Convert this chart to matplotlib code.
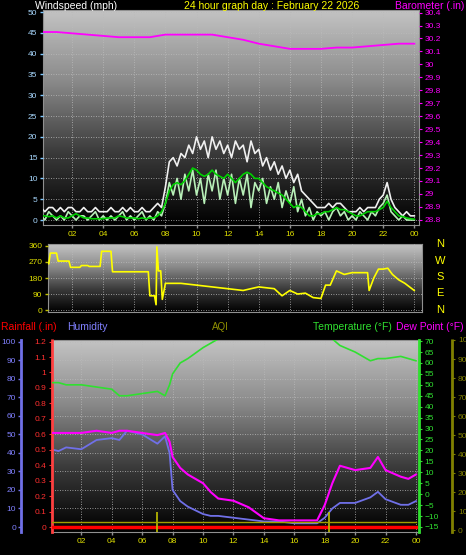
import numpy as np
import matplotlib
matplotlib.use("Agg")
import matplotlib.pyplot as plt
from matplotlib.colors import LinearSegmentedColormap

# ---------------- data ----------------
t_q = [i * 0.25 for i in range(97)]  # quarter-hour times
gust = [3, 2, 3, 3, 2, 3, 2, 3, 3, 2, 2, 3, 2, 2, 3, 2, 2, 2, 3, 2, 2, 3, 2, 3, 2, 2, 3, 2, 2, 3, 4, 3,
        8, 14, 15, 13, 16, 15, 18, 16, 20, 17, 19, 15, 20, 17, 19, 16, 18, 15, 19, 17, 18, 14, 19, 16, 17, 13, 15, 12, 14, 11, 13, 10,
        12, 9, 11, 7, 6, 5, 4, 3, 3, 3, 4, 3, 4, 4, 3, 2, 2, 2, 3, 2, 3, 3, 3, 5, 6, 9, 5, 3, 2, 1, 2, 1, 1]
wind = [1, 0, 2, 1, 0, 1, 0, 2, 1, 0, 1, 1, 0, 1, 2, 0, 1, 0, 1, 0, 1, 2, 0, 1, 0, 1, 2, 0, 1, 0, 2, 1,
        4, 9, 6, 10, 5, 11, 7, 12, 6, 10, 4, 11, 7, 12, 5, 10, 6, 11, 4, 10, 6, 11, 3, 9, 7, 10, 4, 8, 5, 9, 3, 7,
        4, 8, 2, 5, 1, 3, 0, 2, 1, 2, 0, 2, 3, 1, 2, 0, 1, 0, 2, 1, 0, 2, 1, 3, 4, 6, 2, 1, 0, 1, 0, 0, 0]
avg = [1, 1, 0.8, 1, 0.5, 1, 0.5, 0.5, 1, 1.5, 1, 0.5, 0.5, 0.3, 0.3, 0.3, 0.3, 0.5, 0.5, 0.5, 1, 0.8, 0.5, 0.5, 0.5, 0.3, 0.5, 0.3, 0.5, 0.5, 1, 2,
        4, 7, 8.5, 9, 8.5, 9.5, 11, 12.5, 12, 11, 10.5, 11, 12, 11, 10.5, 10, 11, 10, 9, 10, 11, 11.5, 11, 10, 10, 9, 8, 7.5, 7, 6.5, 6, 5,
        4, 3, 3.5, 3, 2, 1, 1, 1.5, 1.5, 2, 2, 2.5, 3, 2.5, 2.5, 2, 1.5, 1, 1, 1.5, 2, 2, 2, 2.5, 3, 4.5, 3, 2, 1, 0.8, 0.5, 0.3, 0.2]
t_h = list(range(25))
baro = [30.25, 30.25, 30.24, 30.23, 30.22, 30.21, 30.21, 30.21, 30.23, 30.23, 30.23, 30.23, 30.21, 30.19, 30.16,
        30.14, 30.12, 30.12, 30.12, 30.13, 30.13, 30.14, 30.15, 30.16, 30.16]

t_dir = [0, 0.5, 0.6, 1.0, 1.1, 1.8, 1.9, 2.5, 2.6, 3.0, 3.1, 3.8, 3.9, 4.0, 4.5, 4.6, 6.9, 7.0, 7.3, 7.4, 7.45, 7.55, 7.7,
         7.8, 8.0, 8.2, 9.0, 10.0, 11.0, 12.0, 13.0, 14.0, 15.0, 15.5, 16.0, 16.5, 17.0, 17.5, 18.0, 18.3, 18.6, 19.0,
         19.5, 20.0, 20.5, 21.0, 21.1, 21.4, 21.7, 22.0, 22.3, 22.6, 23.0, 23.4, 24.0]
wdir = [260, 260, 320, 320, 275, 275, 240, 240, 250, 250, 245, 245, 330, 330, 330, 215, 215, 80, 80, 30, 355, 220, 220,
        60, 150, 150, 150, 140, 130, 120, 110, 130, 120, 80, 110, 90, 95, 70, 65, 140, 140, 220,
        200, 210, 210, 210, 110, 180, 230, 230, 235, 200, 170, 150, 110]

t_b = [0, 0.5, 1, 2, 3, 4, 4.5, 5, 6, 7, 7.5, 7.8, 8, 8.5, 9, 10, 10.5, 11, 12, 13, 14, 15, 16, 17, 17.5, 18, 18.5, 19,
       20, 21, 21.5, 22, 23, 23.5, 24]
humidity = [42, 41, 43, 42, 47, 48, 47, 52, 50, 45, 49, 40, 20, 14, 11, 7, 6, 6, 5, 4, 3, 3, 2, 2, 2, 5, 10, 13,
            13, 16, 19, 15, 12, 12, 14]
temperature = [51, 51, 50, 50, 49, 48, 45, 45, 46, 47, 45, 50, 55, 60, 62, 67, 69, 71, 75, 76, 77, 77, 77, 76, 75, 73, 71, 68,
               65, 61, 62, 62, 63, 62, 61]
dewpoint = [28, 28, 28, 28, 29, 28, 29, 29, 28, 27, 28, 24, 17, 12, 9, 5, 1, -2, -3, -6, -11, -12, -12, -12, -12, -5, 5, 13,
            11, 12, 17, 11, 8, 7, 9]
rain = [0.0] * len(t_b)
aqi = [4.2] * len(t_b)
aqi_spikes = [7.0, 18.3]
aqi_spike_val = 9.5

hour_ticks = [2, 4, 6, 8, 10, 12, 14, 16, 18, 20, 22, 24]
hour_labels = ["02", "04", "06", "08", "10", "12", "14", "16", "18", "20", "22", "00"]

# ---------------- figure ----------------
W, H = 466, 555
fig = plt.figure(figsize=(W / 100, H / 100), dpi=100, facecolor="black")
plt.rcParams['font.family'] = ['Liberation Sans', 'DejaVu Sans']
FS = 6
TFS = 7.5
gcmap = LinearSegmentedColormap.from_list("g", ["#000000", "#3a3a3a", "#8a8a8a", "#c4c4c4"])


def pix_ax(x0, x1, y0, y1):
    return fig.add_axes([x0 / W, 1 - y1 / H, (x1 - x0) / W, (y1 - y0) / H])


def style(ax):
    ax.set_facecolor("black")
    grad = np.linspace(0, 1, 256).reshape(-1, 1)
    ax.imshow(grad, aspect="auto", cmap=gcmap, origin="lower", extent=[0, 1, 0, 1],
              transform=ax.transAxes, zorder=0)
    for s in ax.spines.values():
        s.set_color("#909090")
    ax.grid(True, color="#bbbbbb", linestyle=(0, (1, 2)), linewidth=0.6)
    ax.set_axisbelow(False)
    ax.tick_params(labelsize=FS, length=2.5, width=1, direction="out", pad=1.5)


# ---- top panel ----
ax1 = pix_ax(43, 419, 10, 225)
style(ax1)
ax1.plot(t_q, gust, color="#f0f0f0", lw=1.2, zorder=3)
ax1.plot(t_q, wind, color="#b8f0b8", lw=1.2, zorder=4)
ax1.plot(t_q, avg, color="#00d000", lw=1.2, zorder=5)
ax1.set_xlim(0.13, 24.3)
ax1.set_ylim(-1.2, 50.5)
ax1.set_yticks(range(0, 51, 5))
ax1.set_xticks(hour_ticks)
ax1.set_xticklabels(hour_labels)
ax1.tick_params(axis="y", colors="#80c8ff", labelcolor="#a8d8ff")
ax1.tick_params(axis="x", colors="#909090", labelcolor="#e0e000")
ax1b = ax1.twinx()
ax1b.plot(t_h, baro, color="#ff00ff", lw=1.3, zorder=6)
ax1b.set_ylim(28.76, 30.42)
ax1b.set_yticks([28.8 + 0.1 * i for i in range(17)])
ax1b.set_yticklabels([f"{28.8 + 0.1 * i:.1f}".rstrip("0").rstrip(".") for i in range(17)])
ax1b.tick_params(labelsize=FS, colors="#ff00ff", length=2.5, pad=1.5)
for s in ax1b.spines.values():
    s.set_visible(False)

fig.text(35 / W, 1 - 6 / H, "Windspeed (mph)", color="white", fontsize=TFS, va="center")
fig.text(272 / W, 1 - 6 / H, "24 hour graph day : February 22 2026", color="#ffff00", fontsize=TFS,
         va="center", ha="center")
fig.text(464 / W, 1 - 6 / H, "Barometer (.in)", color="#ff00ff", fontsize=TFS, va="center", ha="right")

# ---- middle panel ----
ax2 = pix_ax(48, 422, 244, 312)
style(ax2)
ax2.plot(t_dir, wdir, color="#ffff00", lw=1.2, zorder=3)
ax2.set_xlim(0.45, 24.5)
ax2.set_ylim(-11, 371)
ax2.set_yticks([0, 90, 180, 270, 360])
ax2.set_xticks(hour_ticks)
ax2.tick_params(axis="x", length=0, labelbottom=False)
ax2.tick_params(axis="y", colors="#c0c000", labelcolor="#e0e000")
for i, lab in enumerate(["N", "W", "S", "E", "N"]):
    fig.text(440 / W, 1 - (244 + i * 16.5) / H, lab, color="#ffff00", fontsize=8, ha="center", va="center")

# ---- bottom panel ----
ax3 = pix_ax(52, 419, 340, 532)
style(ax3)
ax3.plot(t_b, humidity, color="#7070e8", lw=1.3, zorder=3)
ax3.set_xlim(0.07, 24.2)
ax3.set_ylim(-2.7, 101)
ax3.set_yticks(range(0, 101, 10))
ax3.set_xticks(hour_ticks)
ax3.set_xticklabels(hour_labels)
ax3.spines["left"].set_position(("outward", 22))
ax3.spines["left"].set_color("#7070e8")
ax3.spines["left"].set_linewidth(2)
ax3.tick_params(axis="y", colors="#7070e8", labelcolor="#8080ff")
ax3.tick_params(axis="x", colors="#909090", labelcolor="#e0e000")

ax3r = ax3.twinx()
ax3r.yaxis.tick_left()
ax3r.plot(t_b, rain, color="#ff0000", lw=2.5, zorder=5)
ax3r.set_ylim(-0.032, 1.21)
ax3r.set_yticks([0.1 * i for i in range(13)])
ax3r.set_yticklabels(["0"] + [f"{0.1 * i:.1f}".rstrip("0").rstrip(".") for i in range(1, 13)])
ax3r.tick_params(labelsize=FS, colors="#ff3030", length=2.5, pad=1.5)
for s in ["right", "top", "bottom"]:
    ax3r.spines[s].set_visible(False)
ax3r.spines["left"].set_color("#ff4040")
ax3r.spines["left"].set_linestyle((0, (1, 1)))
ax3r.spines["left"].set_linewidth(2)

ax3t = ax3.twinx()
ax3t.plot(t_b, temperature, color="#30e030", lw=1.2, zorder=4)
ax3t.plot(t_b, dewpoint, color="#ff00ff", lw=1.5, zorder=4)
ax3t.set_ylim(-17.3, 70.5)
ax3t.set_yticks(range(-15, 71, 5))
ax3t.tick_params(labelsize=FS, colors="#30e030", length=2.5, pad=1.5)
for s in ["left", "top", "bottom"]:
    ax3t.spines[s].set_visible(False)
ax3t.spines["right"].set_color("#30e030")
ax3t.spines["right"].set_linewidth(2)

ax3a = ax3.twinx()
ax3a.plot(t_b, aqi, color="#a0a000", lw=1.0, zorder=4)
ax3a.vlines(aqi_spikes, -1, aqi_spike_val, color="#c0c000", lw=1.2)
ax3a.set_ylim(-1, 99.3)
ax3a.set_yticks(range(0, 101, 10))
ax3a.spines["right"].set_position(("outward", 24))
ax3a.tick_params(labelsize=FS, colors="#808000", labelcolor="#808000", length=2.5, pad=1.5)
for s in ["left", "top", "bottom"]:
    ax3a.spines[s].set_visible(False)
ax3a.spines["right"].set_color("#808000")
ax3a.spines["right"].set_linestyle((0, (1, 1)))
ax3a.spines["right"].set_linewidth(2)

fig.text(1 / W, 1 - 327 / H, "Rainfall (.in)", color="#ff0000", fontsize=TFS, va="center")
fig.text(67 / W, 1 - 327 / H, "Humidity", color="#8080ff", fontsize=TFS, va="center")
fig.text(220 / W, 1 - 327 / H, "AQI", color="#909000", fontsize=7, va="center", ha="center")
fig.text(313 / W, 1 - 327 / H, "Temperature (°F)", color="#30e030", fontsize=TFS, va="center")
fig.text(464 / W, 1 - 327 / H, "Dew Point (°F)", color="#ff00ff", fontsize=TFS, va="center", ha="right")

fig.savefig("out.png", dpi=100, facecolor="black")
